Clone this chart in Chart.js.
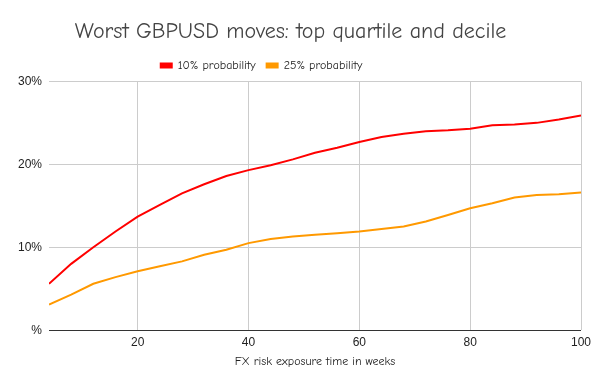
<!DOCTYPE html>
<html>
<head>
<meta charset="utf-8">
<script src="https://cdn.jsdelivr.net/npm/chart.js@4"></script>
<style>
  html, body { margin: 0; padding: 0; background: #fff; }
  #wrap { width: 600px; height: 371px; }
</style>
</head>
<body>
<div id="wrap"><canvas id="myChart" width="600" height="371"></canvas></div>
<script>
// data
const weeks = [4, 8, 12, 16, 20, 24, 28, 32, 36, 40, 44, 48, 52, 56, 60, 64, 68, 72, 76, 80, 84, 88, 92, 96, 100]
const decile = [5.6, 8.0, 10.0, 11.9, 13.7, 15.1, 16.5, 17.6, 18.6, 19.3, 19.9, 20.6, 21.4, 22.0, 22.7, 23.3, 23.7, 24.0, 24.1, 24.3, 24.7, 24.8, 25.0, 25.4, 25.9]
const quartile = [3.1, 4.3, 5.6, 6.4, 7.1, 7.7, 8.3, 9.1, 9.7, 10.5, 11.0, 11.3, 11.5, 11.7, 11.9, 12.2, 12.5, 13.1, 13.9, 14.7, 15.3, 16.0, 16.3, 16.4, 16.6]
const xTicks = [20, 40, 60, 80, 100]
const yTicks = [0, 10, 20, 30]

const handFont = "'Comic Sans MS', 'Comic Neue', Lato, sans-serif"
const plainFont = "'Liberation Sans', Arial, sans-serif"

function toPoints(values) {
    return weeks.map((w, i) => ({ x: w, y: values[i] }))
}

// nudge the legend left, the reference does not center it
const shiftLegend = {
    id: 'shiftLegend',
    afterLayout(chart) {
        if (chart.legend) {
            chart.legend.left -= 29
            chart.legend.right -= 29
        }
    }
}

const ctx = document.getElementById('myChart').getContext('2d')
new Chart(ctx, {
    type: 'line',
    data: {
        datasets: [
            {
                label: '10% probability',
                data: toPoints(decile),
                borderColor: '#ff0000',
                backgroundColor: '#ff0000',
                borderWidth: 2,
                pointRadius: 0,
                tension: 0
            },
            {
                label: '25% probability',
                data: toPoints(quartile),
                borderColor: '#ff9900',
                backgroundColor: '#ff9900',
                borderWidth: 2,
                pointRadius: 0,
                tension: 0
            }
        ]
    },
    options: {
        responsive: false,
        animation: false,
        layout: { padding: { left: 0, right: 19, top: 15, bottom: 2 } },
        plugins: {
            title: {
                display: true,
                text: 'Worst GBPUSD moves: top quartile and decile',
                color: '#444444',
                font: { family: handFont, size: 22, weight: 'normal' },
                padding: { top: 4, bottom: 3 }
            },
            legend: {
                position: 'top',
                labels: {
                    color: '#222222',
                    font: { family: handFont, size: 12 },
                    boxWidth: 11,
                    boxHeight: 4,
                    padding: 11
                }
            },
            tooltip: { enabled: false }
        },
        scales: {
            x: {
                type: 'linear',
                min: 4,
                max: 100,
                afterBuildTicks: (scale) => {
                    scale.ticks = xTicks.map(v => ({ value: v }))
                },
                grid: { color: '#cccccc', drawTicks: false },
                border: { display: false },
                ticks: {
                    color: '#222222',
                    font: { family: plainFont, size: 12 },
                    padding: 5,
                    maxRotation: 0
                },
                title: {
                    display: true,
                    text: 'FX risk exposure time in weeks',
                    color: '#222222',
                    font: { family: handFont, size: 12 },
                    padding: { top: 0, bottom: 0 }
                }
            },
            y: {
                min: 0,
                max: 30,
                afterBuildTicks: (scale) => {
                    scale.ticks = yTicks.map(v => ({ value: v }))
                },
                afterFit: (scale) => { scale.width = 49 },
                grid: {
                    color: (c) => c.tick && c.tick.value === 0 ? '#333333' : '#cccccc',
                    drawTicks: false
                },
                border: { display: false },
                ticks: {
                    color: '#222222',
                    font: { family: plainFont, size: 12 },
                    padding: 7,
                    callback: (v) => v === 0 ? '%' : v + '%'
                }
            }
        }
    },
    plugins: [shiftLegend]
})
</script>
</body>
</html>
